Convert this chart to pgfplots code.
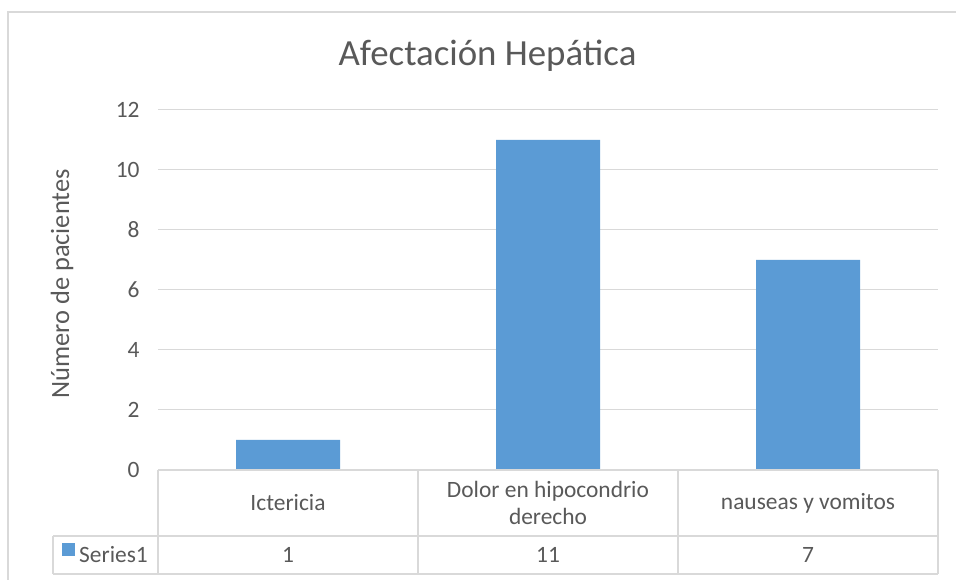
\documentclass[border=0pt]{standalone}
\usepackage{pgfplots}
\pgfplotsset{compat=1.18}
\usepackage{fontspec}
\setmainfont{Carlito}
\definecolor{txt}{HTML}{595959}
\definecolor{grd}{HTML}{D9D9D9}
\definecolor{bar}{HTML}{5B9BD5}
\begin{document}
\begin{tikzpicture}[x=1bp,y=1bp]
\begin{scope}
\clip (0,0) rectangle (956,580);
\fill[white] (0,0) rectangle (956,580);
\draw[grd, line width=1.2bp] (8,568) rectangle (970,-20);
\end{scope}
\begin{axis}[
  at={(158bp,110bp)}, anchor=south west,
  scale only axis, width=780bp, height=360bp,
  xmin=-0.5, xmax=2.5, ymin=0, ymax=12,
  ytick={0,2,...,12},
  xtick={0,1,2},
  xticklabels={Ictericia,{Dolor en hipocondrio\\derecho},nauseas y vomitos},
  xticklabel style={anchor=center, yshift=-33bp, align=center, font=\fontsize{23.5}{28}\selectfont, text=txt},
  yticklabel style={font=\fontsize{23.5}{28}\selectfont, text=txt, xshift=-15bp},
  major tick length=0pt,
  axis line style={draw=none},
  ymajorgrids, grid style={grd, line width=1bp},
  /pgf/number format/assume math mode=true,
  clip=false,
]
\addplot[ybar, bar width=104bp, fill=bar, draw=none] coordinates {(0,1) (1,11) (2,7)};
\end{axis}
% data table
\begin{scope}[grd, line width=1.2bp]
\draw (158,110) -- (938,110);
\draw (53,44) -- (938,44);
\draw (53,6) -- (938,6);
\draw (53,44) -- (53,6);
\foreach \x in {158,418,678,938} \draw (\x,110) -- (\x,6);
\end{scope}
\fill[bar] (62,37) rectangle (75,24);
\begin{scope}[font=\fontsize{23.5}{28}\selectfont, text=txt]
\node[anchor=base west, inner sep=0] at (79,17) {Series1};
\node[anchor=base, inner sep=0] at (288,17) {1};
\node[anchor=base, inner sep=0] at (548,17) {11};
\node[anchor=base, inner sep=0] at (808,17) {7};
\end{scope}
\node[anchor=base, inner sep=0, text=txt, font=\fontsize{37}{44}\selectfont] at (487.5,514) {Afectación Hepática};
\node[anchor=base, rotate=90, inner sep=0, text=txt, font=\fontsize{26.5}{32}\selectfont] at (69,296) {Número de pacientes};
\pgfresetboundingbox
\useasboundingbox (0,0) rectangle (956,580);
\end{tikzpicture}
\end{document}
